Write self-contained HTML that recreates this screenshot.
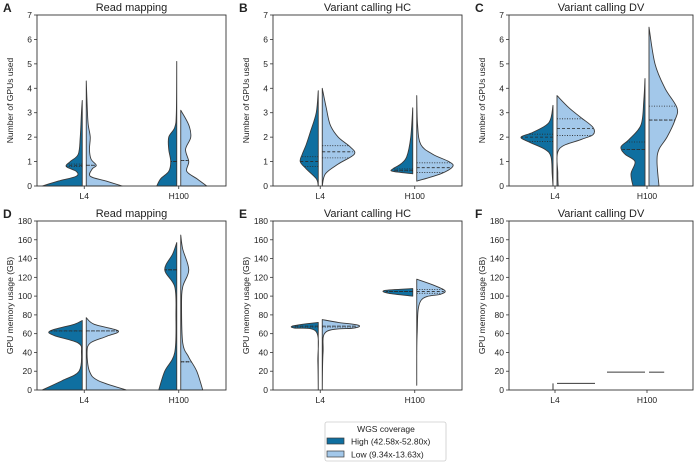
<!DOCTYPE html>
<html><head><meta charset="utf-8">
<style>
body{margin:0;background:#fff;width:699px;height:462px;overflow:hidden;font-family:"Liberation Sans",sans-serif}
svg text{font-family:"Liberation Sans",sans-serif;fill:#222}
</style></head>
<body>
<svg id="chart" width="699" height="462" viewBox="0 0 699 462"></svg>
<script>
const categories = ["L4","H100"];
const hues = ["High (42.58x-52.80x)","Low (9.34x-13.63x)"];
const panelTitles = ["Read mapping","Variant calling HC","Variant calling DV","Read mapping","Variant calling HC","Variant calling DV"];
const panelLetters = ["A","B","C","D","E","F"];
const yTicksTop = [0,1,2,3,4,5,6,7];
const yTicksBottom = [0,20,40,60,80,100,120,140,160,180];
// density profiles: [value, relative half-width]
const A_L4_high = [[0,1.0],[0.2,0.6],[0.4,0.15],[0.6,0.15],[0.8,0.4],[1.0,0.3],[1.3,0.1],[2,0.05],[3,0.02],[3.5,0]];
const A_L4_low = [[0,0.9],[0.2,0.5],[0.4,0.1],[0.7,0.15],[0.85,0.25],[1.1,0.12],[1.5,0.08],[2,0.1],[2.5,0.05],[3,0.03],[4.3,0]];
const A_H100_high = [[0,0.5],[0.3,0.4],[0.6,0.2],[1,0.15],[1.5,0.2],[2,0.2],[2.4,0.05],[3,0.01],[5.1,0]];
const A_H100_low = [[0,0.65],[0.3,0.4],[0.6,0.15],[1,0.2],[1.5,0.12],[2,0.25],[2.5,0.2],[3.1,0]];
const B_L4_high = [[0,0],[0.3,0.05],[0.7,0.3],[1,0.45],[1.3,0.4],[1.7,0.3],[2.2,0.2],[3,0.05],[3.9,0]];
const B_L4_low = [[0,0],[0.5,0.08],[0.9,0.4],[1.3,0.8],[1.6,0.7],[2.0,0.4],[2.5,0.2],[3.2,0.1],[4,0]];
const B_H100_high = [[0.5,0],[0.6,0.5],[0.7,0.5],[0.9,0.3],[1.2,0.15],[2,0.05],[3.2,0]];
const B_H100_low = [[0.2,0],[0.5,0.6],[0.8,0.9],[1.0,0.8],[1.3,0.4],[1.7,0.1],[2.5,0.02],[3.7,0]];
const C_L4_high = [[0,0],[0.5,0.02],[1.2,0.05],[1.5,0.2],[1.8,0.6],[2.0,0.8],[2.2,0.5],[2.6,0.1],[3.3,0]];
const C_L4_low = [[0,0.03],[0.5,0.02],[1.5,0.05],[1.9,0.6],[2.1,0.9],[2.4,0.9],[2.8,0.6],[3.2,0.3],[3.7,0]];
const C_H100_high = [[0,0.3],[0.5,0.35],[1,0.25],[1.3,0.5],[1.6,0.6],[1.9,0.4],[2.5,0.1],[3.5,0.03],[4.4,0]];
const C_H100_low = [[0,0.25],[1,0.2],[1.5,0.25],[2,0.45],[2.7,0.65],[3.2,0.7],[4,0.4],[5,0.15],[6.5,0]];
const D_L4_high = [[0,1.0],[10,0.5],[20,0.08],[40,0.02],[50,0.1],[58,0.7],[63,0.8],[70,0.2],[74,0]];
const D_L4_low = [[0,1.0],[10,0.3],[20,0.08],[40,0.02],[50,0.1],[57,0.5],[63,0.8],[70,0.2],[77,0]];
const D_H100_high = [[0,0.45],[20,0.3],[40,0.05],[80,0.02],[110,0.05],[128,0.3],[145,0.1],[157,0]];
const D_H100_low = [[0,0.55],[20,0.4],[35,0.2],[50,0.05],[90,0.02],[110,0.05],[128,0.2],[150,0.05],[165,0]];
const E_L4_high = [[0,0],[30,0.01],[62,0.05],[66,0.6],[68,0.65],[70,0.4],[72,0]];
const E_L4_low = [[0,0],[40,0.02],[62,0.1],[66,0.8],[69,0.9],[72,0.4],[75,0]];
const E_H100_high = [[100,0],[103,0.6],[106,0.7],[108,0]];
const E_H100_low = [[5,0],[60,0.01],[95,0.1],[102,0.6],[106,0.7],[112,0.4],[118,0]];
// quartiles [q1, median, q3]
const A_quart = [[0.8,0.85,0.9],[0.85,0.85,0.85],[1.0,1.0,1.0],[1.05,1.05,1.05]];
const B_quart = [[0.8,1.0,1.2],[1.15,1.4,1.65],[0.62,0.65,0.7],[0.55,0.75,0.95]];
const C_quart = [[1.82,2.0,2.12],[2.07,2.35,2.75],[1.5,1.5,1.8],[2.7,2.7,3.27]];
const D_quart = [[63,63,63],[63,63,63],[128,128,128],[30,30,30]];
const E_quart = [[67,68,68],[67,68,68],[105,105,105],[103,105,107]];
// panel F: flat values
const F_values = [7,7,19,19];
const F_widths = [0.0,0.95,0.95,0.38];

const svg = document.getElementById('chart');
const NS = "http://www.w3.org/2000/svg";
const COL = ["#0f6fa0","#a3c8ea"];
function mk(tag, attrs, parent){const e=document.createElementNS(NS,tag);for(const k in attrs)e.setAttribute(k,attrs[k]);(parent||svg).appendChild(e);return e;}

const panels = [
 {x0:37,x1:226,y0:15,y1:186,max:7,ticks:yTicksTop,ylab:"Number of GPUs used",v:[A_L4_high,A_L4_low,A_H100_high,A_H100_low],q:A_quart},
 {x0:273,x1:462,y0:15,y1:186,max:7,ticks:yTicksTop,ylab:"Number of GPUs used",v:[B_L4_high,B_L4_low,B_H100_high,B_H100_low],q:B_quart},
 {x0:509,x1:693,y0:15,y1:186,max:7,ticks:yTicksTop,ylab:"Number of GPUs used",v:[C_L4_high,C_L4_low,C_H100_high,C_H100_low],q:C_quart},
 {x0:37,x1:226,y0:221,y1:390,max:180,ticks:yTicksBottom,ylab:"GPU memory usage (GB)",v:[D_L4_high,D_L4_low,D_H100_high,D_H100_low],q:D_quart},
 {x0:273,x1:462,y0:221,y1:390,max:180,ticks:yTicksBottom,ylab:"GPU memory usage (GB)",v:[E_L4_high,E_L4_low,E_H100_high,E_H100_low],q:E_quart},
 {x0:509,x1:693,y0:221,y1:390,max:180,ticks:yTicksBottom,ylab:"GPU memory usage (GB)",v:null}
];
const W = 40;
function widthAt(prof,val){for(let i=0;i<prof.length-1;i++){const a=prof[i],b=prof[i+1];if(val>=a[0]&&val<=b[0]){const t=(val-a[0])/((b[0]-a[0])||1);return a[1]+t*(b[1]-a[1]);}}return 0;}
// smooth curve through points (catmull-rom -> bezier)
function smooth(pts){
  let d='';
  for(let i=0;i<pts.length-1;i++){
    const p0=pts[Math.max(0,i-1)],p1=pts[i],p2=pts[i+1],p3=pts[Math.min(pts.length-1,i+2)];
    const c1=[p1[0]+(p2[0]-p0[0])/6,p1[1]+(p2[1]-p0[1])/6];
    const c2=[p2[0]-(p3[0]-p1[0])/6,p2[1]-(p3[1]-p1[1])/6];
    d+=` C${c1[0]},${c1[1]} ${c2[0]},${c2[1]} ${p2[0]},${p2[1]}`;
  }
  return d;
}

panels.forEach((p,pi)=>{
  const g = mk('g',{});
  
  
  const ys = v => p.y1 - v/p.max*(p.y1-p.y0);
  const xs = ci => p.x0 + (ci*0.5+0.25)*(p.x1-p.x0);
  const t = mk('text',{x:(p.x0+p.x1)/2,y:p.y0-4,'text-anchor':'middle','font-size':11},g); t.textContent=panelTitles[pi];
  
  const l = mk('text',{x:p.x0-34,y:p.y0-3,'font-size':12,'font-weight':'bold'},g); l.textContent=panelLetters[pi];
  
  p.ticks.forEach(tv=>{
    mk('line',{x1:p.x0-3,x2:p.x0,y1:ys(tv),y2:ys(tv),stroke:'#333','stroke-width':0.8},g);
    const tt=mk('text',{x:p.x0-5,y:ys(tv)+3,'text-anchor':'end','font-size':8.5},g); tt.textContent=tv;
    
  });
  const yl = mk('text',{x:0,y:0,'text-anchor':'middle','font-size':8.5,transform:`translate(${p.x0-24},${(p.y0+p.y1)/2}) rotate(-90)`},g); yl.textContent=p.ylab;
  
  categories.forEach((c,ci)=>{
    mk('line',{x1:xs(ci),x2:xs(ci),y1:p.y1,y2:p.y1+3,stroke:'#333','stroke-width':0.8},g);
    const xt=mk('text',{x:xs(ci),y:p.y1+13,'text-anchor':'middle','font-size':8.5},g); xt.textContent=c;
    
  });
  if(p.v){
    p.v.forEach((prof,vi)=>{
      const ci=Math.floor(vi/2), hi=vi%2, dir=hi===0?-1:1;
      const cx=xs(ci)+dir*2;
      const pts=prof.map(pt=>[cx+dir*pt[1]*W,ys(pt[0])]);
      let d=`M${cx},${ys(prof[0][0])} L${pts[0][0]},${pts[0][1]}`+smooth(pts)+` L${cx},${ys(prof[prof.length-1][0])} Z`;
      const path=mk('path',{d:d,fill:COL[hi],stroke:'#3a3a3a','stroke-width':0.9,'stroke-linejoin':'round'},g);
      
      
      p.q[vi].forEach((qv,qi)=>{
        const w=widthAt(prof,qv)*W;
        const ln=mk('line',{x1:cx,x2:cx+dir*w,y1:ys(qv),y2:ys(qv),stroke:'#2a2a2a','stroke-width':0.8,'stroke-dasharray':qi===1?'3,2':'1,1.5'},g);
        
      });
    });
  } else {
    F_values.forEach((val,vi)=>{
      const ci=Math.floor(vi/2), hi=vi%2, dir=hi===0?-1:1;
      const cx=xs(ci)+dir*2;
      const ln=mk('line',{x1:cx,x2:cx+dir*F_widths[vi]*W,y1:ys(val),y2:ys(val),stroke:'#3a3a3a','stroke-width':1},g);
      
      
    });
    const vl=mk('line',{x1:xs(0)-2,x2:xs(0)-2,y1:ys(0),y2:ys(F_values[0]),stroke:'#3a3a3a','stroke-width':1},g);
    
  }
  const fr=mk('rect',{x:p.x0,y:p.y0,width:p.x1-p.x0,height:p.y1-p.y0,fill:'none',stroke:'#333','stroke-width':0.9},g);
  
});

// legend
const lg = mk('g',{});


mk('rect',{x:325,y:422,width:121,height:39,fill:'#fff',stroke:'#ccc','stroke-width':0.8,rx:2},lg);
const lt=mk('text',{x:386,y:432,'text-anchor':'middle','font-size':8.5},lg); lt.textContent="WGS coverage";

hues.forEach((h,i)=>{
  const y=438+i*13;
  const sw=mk('rect',{x:327,y:y,width:17,height:6,fill:COL[i],stroke:'#3a3a3a','stroke-width':0.7},lg);
  
  const tx=mk('text',{x:351,y:y+6.5,'font-size':8.5},lg); tx.textContent=h;
  
});
</script>
</body></html>
